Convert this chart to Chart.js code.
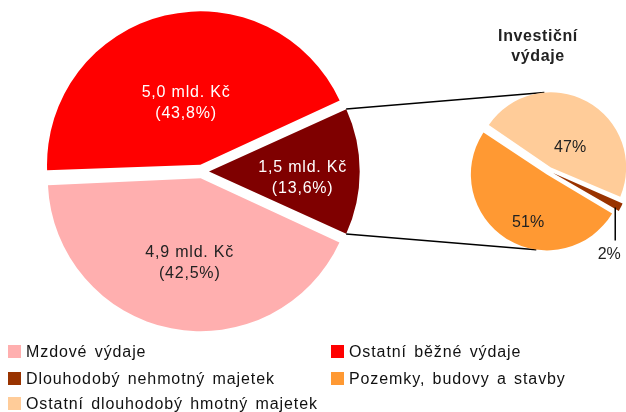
<!DOCTYPE html>
<html>
<head>
<meta charset="utf-8">
<script src="https://cdn.jsdelivr.net/npm/chart.js@4/dist/chart.umd.min.js"></script>
<style>
  html, body { margin: 0; padding: 0; overflow: hidden; background: #fff; }
  body { width: 626px; height: 412px; position: relative; font-family: "Liberation Sans", Arial, sans-serif; }
  #big { position: absolute; left: 0; top: 0; }
  #small { position: absolute; left: 459px; top: 81px; }
  .subtitle { position: absolute; left: 478px; top: 26px; width: 120px; text-align: center;
    font-weight: bold; font-size: 16px; line-height: 20px; color: #222; letter-spacing: 0.6px; }
  .item { position: absolute; font-size: 16px; letter-spacing: 0.9px; word-spacing: 2px; color: #111; line-height: 18px; white-space: nowrap; }
  .item span { position: absolute; left: -18px; top: 2px; width: 13px; height: 13px; }
</style>
</head>
<body>
<canvas id="big" width="626" height="412"></canvas>
<canvas id="small" width="180" height="180"></canvas>
<div class="subtitle">Investiční<br>výdaje</div>
<div id="legend"></div>
<script>
// hlavní koláč: investiční, mzdové, ostatní běžné výdaje
const mainLabels = ["Investiční výdaje", "Mzdové výdaje", "Ostatní běžné výdaje"];
const mainAmounts = ["1,5", "4,9", "5,0"];      // mld. Kč
const mainShares = [13.6, 42.5, 43.8];           // %
const mainColors = ["#7f0000", "#ffafaf", "#ff0000"];

// struktura investičních výdajů
const invLabels = ["Ostatní dlouhodobý hmotný majetek", "Dlouhodobý nehmotný majetek", "Pozemky, budovy a stavby"];
const invShares = [47, 2, 51];                   // %
const invColors = ["#ffcc99", "#993300", "#ff9933"];

const FONT = '"Liberation Sans", Arial, sans-serif';
const SMALL_LEFT = 459, SMALL_TOP = 81;
const DEG = Math.PI / 180;

// point on the outer edge of an exploded arc (same math as ArcElement.draw)
function edgePoint(arc, angle, dx, dy, k) {
  const off = (arc.options.offset || 0) / 4;
  const half = (arc.startAngle + arc.endAngle) / 2;
  const circ = arc.endAngle - arc.startAngle;
  const fix = 1 - Math.sin(Math.min(Math.PI, circ));
  const r = (arc.outerRadius + off * fix) * (k || 1);
  return {
    x: dx + arc.x + Math.cos(half) * off + Math.cos(angle) * r,
    y: dy + arc.y + Math.sin(half) * off + Math.sin(angle) * r
  };
}
// label position: radius fraction + small angle tweak (degrees)
function labelPoint(arc, frac, turn) {
  const off = (arc.options.offset || 0) / 4;
  const half = (arc.startAngle + arc.endAngle) / 2;
  const a = half + (turn || 0) * DEG;
  const r = arc.outerRadius * frac;
  return {
    x: arc.x + Math.cos(half) * off + Math.cos(a) * r,
    y: arc.y + Math.sin(half) * off + Math.sin(a) * r
  };
}

const smallLabelsPlugin = {
  id: "smallLabels",
  afterDraw(chart) {
    const ctx = chart.ctx;
    const arcs = chart.getDatasetMeta(0).data;
    const fracs = [0.38, 0, 0.72];
    const turns = [16, 0, -11];
    ctx.save();
    ctx.font = "16px " + FONT;
    ctx.fillStyle = "#222";
    ctx.textAlign = "center";
    ctx.textBaseline = "middle";
    [0, 2].forEach(i => {
      const p = labelPoint(arcs[i], fracs[i], turns[i]);
      ctx.fillText(invShares[i] + "%", p.x, p.y);
    });
    // 2 % with leader line
    const b = arcs[1];
    const p = edgePoint(b, b.endAngle, 0, 0, 0.95);
    ctx.strokeStyle = "#000";
    ctx.lineWidth = 1.5;
    ctx.beginPath();
    ctx.moveTo(p.x, p.y - 2);
    ctx.lineTo(p.x, p.y + 31);
    ctx.stroke();
    ctx.fillText(invShares[1] + "%", p.x - 6, p.y + 45);
    ctx.restore();
  }
};

const small = new Chart(document.getElementById("small"), {
  type: "pie",
  data: {
    labels: invLabels,
    datasets: [{
      data: invShares,
      backgroundColor: invColors,
      borderWidth: 0,
      offset: [16, 18, 16]
    }]
  },
  options: {
    responsive: false,
    animation: false,
    devicePixelRatio: 1,
    rotation: -56,
    radius: 72,
    plugins: { legend: { display: false }, tooltip: { enabled: false } }
  },
  plugins: [smallLabelsPlugin]
});

const mainLabelsPlugin = {
  id: "mainLabels",
  afterDraw(chart) {
    const ctx = chart.ctx;
    const arcs = chart.getDatasetMeta(0).data;
    const fracs = [0.63, 0.57, 0.43];
    const turns = [3.7, -3.7, 0.5];
    const colors = ["#fff", "#222", "#fff"];
    ctx.save();
    ctx.font = "16px " + FONT;
    ctx.textAlign = "center";
    ctx.textBaseline = "middle";
    if ("letterSpacing" in ctx) ctx.letterSpacing = "0.8px";
    arcs.forEach((arc, i) => {
      const p = labelPoint(arc, fracs[i], turns[i]);
      ctx.fillStyle = colors[i];
      ctx.fillText(mainAmounts[i] + " mld. Kč", p.x, p.y - 10);
      ctx.fillText("(" + mainShares[i].toFixed(1).replace(".", ",") + "%)", p.x, p.y + 11);
    });
    // connector lines to the investment pie
    const inv = arcs[0];
    const sArcs = small.getDatasetMeta(0).data;
    const a1 = edgePoint(inv, inv.startAngle, 0, 0);
    const a2 = edgePoint(inv, inv.endAngle, 0, 0);
    const b1 = edgePoint(sArcs[0], -95 * DEG, SMALL_LEFT, SMALL_TOP);
    const b2 = edgePoint(sArcs[2], 98 * DEG, SMALL_LEFT, SMALL_TOP);
    ctx.strokeStyle = "#000";
    ctx.lineWidth = 1.5;
    ctx.beginPath();
    ctx.moveTo(a1.x, a1.y); ctx.lineTo(b1.x, b1.y);
    ctx.moveTo(a2.x, a2.y); ctx.lineTo(b2.x, b2.y);
    ctx.stroke();
    ctx.restore();
  }
};

new Chart(document.getElementById("big"), {
  type: "pie",
  data: {
    labels: mainLabels,
    datasets: [{
      data: mainShares,
      backgroundColor: mainColors,
      borderWidth: 0,
      offset: 28
    }]
  },
  options: {
    responsive: false,
    animation: false,
    devicePixelRatio: 1,
    rotation: 90 - mainShares[0] * 3.6 / 2,
    radius: 149,
    layout: { padding: { left: 0, top: 0, right: 222, bottom: 69 } },
    plugins: { legend: { display: false }, tooltip: { enabled: false } }
  },
  plugins: [mainLabelsPlugin]
});

// legenda
const legendItems = [
  [mainLabels[1], mainColors[1], 26, 343],
  [mainLabels[2], mainColors[2], 349, 343],
  [invLabels[1], invColors[1], 26, 370],
  [invLabels[2], invColors[2], 349, 370],
  [invLabels[0], invColors[0], 26, 395]
];
const legend = document.getElementById("legend");
legendItems.forEach(([text, color, x, y]) => {
  const d = document.createElement("div");
  d.className = "item";
  d.style.left = x + "px";
  d.style.top = y + "px";
  d.innerHTML = '<span style="background:' + color + '"></span>' + text;
  legend.appendChild(d);
});
</script>
</body>
</html>
